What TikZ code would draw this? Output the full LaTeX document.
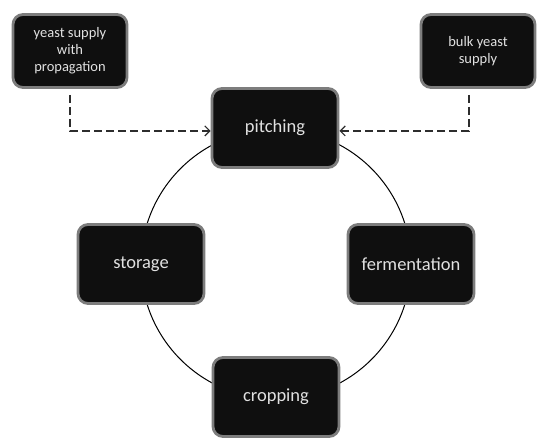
\documentclass[tikz,border=0pt]{standalone}
\usepackage{fontspec}
\setmainfont{Carlito}
\usetikzlibrary{arrows.meta,calc}
\tikzset{
  bigbox/.style={rectangle, rounded corners=10pt, fill={rgb,255:red,15;green,15;blue,15},
    draw={rgb,255:red,125;green,125;blue,125}, line width=2.8pt,
    minimum width=126pt, minimum height=79pt, text={rgb,255:red,225;green,225;blue,225},
    font=\fontsize{18.5}{20}\selectfont, inner sep=2pt},
  smallbox/.style={bigbox, minimum width=114pt, minimum height=73pt,
    font=\fontsize{14.5}{17}\selectfont, align=center},
  dashline/.style={draw={rgb,255:red,45;green,45;blue,45}, line width=1.2pt,
    dash pattern=on 8pt off 4pt, -{Straight Barb[length=5pt,width=10pt,line width=1.2pt]}},
  ring/.style={draw=black, line width=1pt}
}
\begin{document}
\begin{tikzpicture}[x=1pt,y=1pt]
\useasboundingbox (0,0) rectangle (537,-439);
\draw[ring] (276,-264) circle (135);
\node[bigbox] (pitching) at (275,-128) {pitching};
\node[bigbox] (ferm) at (411,-264) {fermentation};
\node[bigbox] (storage) at (141,-264) {storage};
\node[bigbox] (crop) at (276,-397) {cropping};
\node[smallbox] (ys) at (70,-51) {yeast supply\\with\\propagation};
\node[smallbox] (bulk) at (478,-51) {bulk yeast\\supply};
\coordinate (bs) at ($(bulk.south)+(-9,0)$);
\coordinate (ysturn) at ($(ys.south)+(0,-42)$);
\coordinate (bsturn) at ($(bs)+(0,-42)$);
\draw[dashline] ($(ys.south)+(0,-6)$) -- (ysturn) -- (ysturn -| pitching.west);
\draw[dashline] ($(bs)+(0,-6)$) -- (bsturn) -- (bsturn -| pitching.east);
\end{tikzpicture}
\end{document}
